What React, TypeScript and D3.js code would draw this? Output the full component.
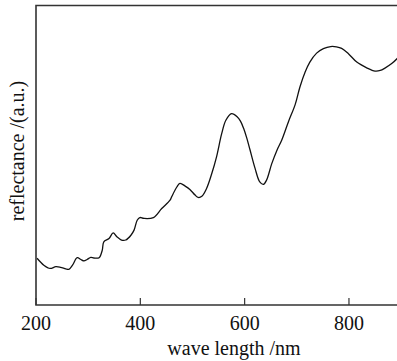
import React, { useEffect, useRef } from 'react';
import * as d3 from 'd3';

// wavelength (nm) and reflectance (a.u.)
const wavelength = [202, 215, 227, 238, 247, 257, 263, 270, 279, 286, 292, 298, 305, 311, 321, 327, 330, 340, 348, 355, 364, 372, 382, 388, 394, 399, 407, 425, 441, 457, 460, 470, 476, 486, 495, 505, 511, 518, 527, 537, 546, 556, 564, 575, 586, 592, 598, 604, 610, 620, 629, 636, 642, 652, 662, 671, 684, 697, 706, 716, 725, 738, 751, 765, 776, 786, 799, 815, 834, 850, 860, 869, 882, 892, 898];
const reflectance = [15.6, 13.3, 12.2, 12.8, 12.6, 12.1, 11.9, 13.3, 15.8, 15.2, 14.7, 15.2, 15.9, 15.7, 15.8, 18.3, 21.1, 22.2, 24.1, 22.8, 21.7, 21.7, 23.3, 25, 28.3, 29.2, 28.9, 29.2, 32.2, 35, 36.1, 39.4, 40.6, 39.7, 38.6, 36.7, 35.9, 36.3, 38.9, 43.9, 49.4, 57.2, 61.7, 63.9, 62.8, 61.4, 59, 55.8, 52, 45.6, 41.1, 40.3, 41.7, 47.2, 51.7, 55, 61.2, 67, 72.8, 77.8, 81.1, 84.1, 85.6, 86.3, 86.2, 85.7, 83.9, 81.1, 79.2, 78.1, 78.3, 79.1, 80.6, 82.2, 83.4];
const xTicks = [200, 400, 600, 800];

const W = 397;
const H = 361;

export default function App() {
  const ref = useRef<SVGSVGElement>(null);

  useEffect(() => {
    document.body.style.margin = '0';
    if (!ref.current) return;
    const svg = d3.select(ref.current);
    svg.selectAll('*').remove();

    const left = 36, top = 5.5, bottom = 305;
    const x = d3.scaleLinear().domain([200, 900]).range([left, left + 700 * 0.5216]);
    const y = d3.scaleLinear().domain([0, 100]).range([bottom, top]);

    svg.append('rect').attr('width', W).attr('height', H).attr('fill', '#fff');

    const pts = wavelength.map((w, i) => [w, reflectance[i]] as [number, number]);
    const line = d3.line<[number, number]>().x(d => x(d[0])).y(d => y(d[1])).curve(d3.curveCatmullRom.alpha(0.5));
    svg.append('path').attr('d', line(pts)).attr('fill', 'none').attr('stroke', '#111').attr('stroke-width', 1.3);

    // frame: left, top, bottom
    const axisCol = '#333';
    svg.append('path')
      .attr('d', `M${W + 2},${top}H${left}V${bottom}H${W + 2}`)
      .attr('fill', 'none').attr('stroke', axisCol).attr('stroke-width', 1.6);

    const g = svg.append('g');
    g.selectAll('line.tick').data(xTicks).enter().append('line')
      .attr('x1', d => x(d)).attr('x2', d => x(d))
      .attr('y1', bottom).attr('y2', bottom - 7)
      .attr('stroke', axisCol).attr('stroke-width', 1.2);
    g.selectAll('text.tick').data(xTicks).enter().append('text')
      .attr('x', d => x(d)).attr('y', 330)
      .attr('text-anchor', 'middle').attr('font-family', '"Liberation Serif", serif').attr('font-size', 20)
      .attr('fill', '#111').text(d => d);

    svg.append('text').attr('x', 234).attr('y', 355)
      .attr('text-anchor', 'middle').attr('font-family', '"Liberation Serif", serif').attr('font-size', 20)
      .attr('fill', '#111').text('wave length /nm');

    svg.append('text').attr('transform', 'translate(24,151) rotate(-90)')
      .attr('text-anchor', 'middle').attr('font-family', '"Liberation Serif", serif').attr('font-size', 20)
      .attr('fill', '#111').text('reflectance /(a.u.)');
  }, []);

  return <svg ref={ref} width={W} height={H} style={{ display: 'block' }} />;
}
